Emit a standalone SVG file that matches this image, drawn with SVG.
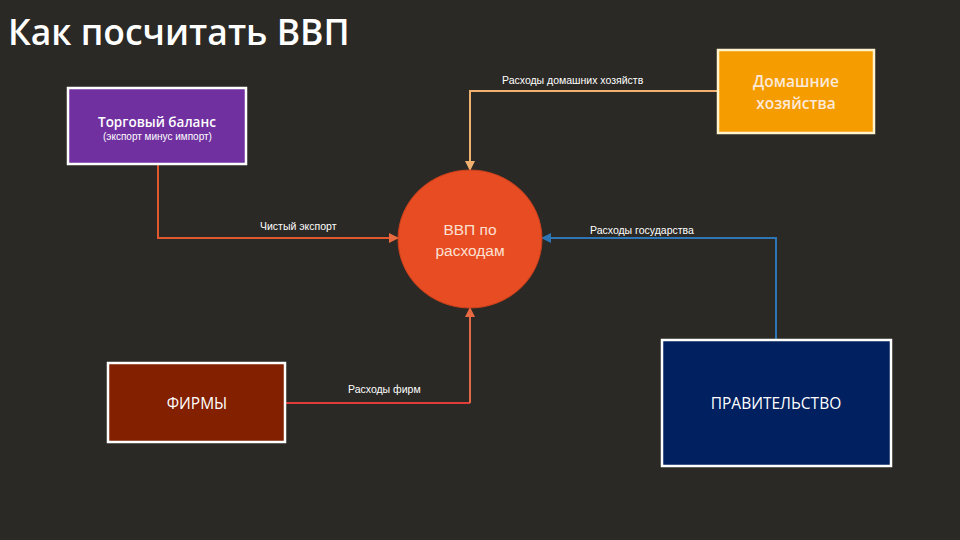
<svg xmlns="http://www.w3.org/2000/svg" width="960" height="540" viewBox="0 0 960 540">
<defs>
<style>
.box{stroke:#ffffff;stroke-width:2.5}
.lbl{font-family:"Liberation Sans","DejaVu Sans",sans-serif;font-size:10.5px;fill:#ffffff}
.nt{font-family:"Open Sans","Noto Sans",sans-serif;font-weight:600;font-size:14px;fill:#ffffff}
.nr{font-family:"Open Sans","Noto Sans",sans-serif;font-weight:400;font-size:15.5px;fill:#ffffff}
.ln{fill:none;stroke-width:2}
</style>
<marker id="aO" viewBox="0 0 10 10" refX="9" refY="5" markerWidth="5" markerHeight="5" orient="auto"><path d="M0,0 L10,5 L0,10 z" fill="#f0b070"/></marker>
<marker id="aR" viewBox="0 0 10 10" refX="9" refY="5" markerWidth="5" markerHeight="5" orient="auto"><path d="M0,0 L10,5 L0,10 z" fill="#e86a40"/></marker>
<marker id="aB" viewBox="0 0 10 10" refX="9" refY="5" markerWidth="5" markerHeight="5" orient="auto"><path d="M0,0 L10,5 L0,10 z" fill="#2e75b6"/></marker>
</defs>
<rect width="960" height="540" fill="#2a2925"/>
<text x="8" y="45" font-family="'Open Sans','Noto Sans',sans-serif" font-weight="600" font-size="35.5" fill="#ffffff">Как посчитать ВВП</text>

<g id="connectors">
<polyline class="ln" points="718,91 470,91 470,170" stroke="#f0b070" marker-end="url(#aO)"/>
<text class="lbl" x="502" y="84">Расходы домашних хозяйств</text>
<polyline class="ln" points="158,164 158,238 398,238" stroke="#e0582e" marker-end="url(#aR)"/>
<text class="lbl" x="260" y="230">Чистый экспорт</text>
<polyline class="ln" points="776,340 776,238 542,238" stroke="#2e75b6" marker-end="url(#aB)"/>
<text class="lbl" x="590" y="234">Расходы государства</text>
<polyline class="ln" points="285,403 470,403" stroke="#e03c3c"/>
<polyline class="ln" points="470,403 470,308" stroke="#e06a48" marker-end="url(#aR)"/>
<text class="lbl" x="348" y="393">Расходы фирм</text>
</g>

<g id="trade">
<rect class="box" x="68" y="88" width="178" height="76" fill="#7030a0"/>
<text class="nt" x="98" y="127" style="font-size:13.5px">Торговый баланс</text>
<text class="lbl" x="103" y="140" style="font-size:10px">(экспорт минус импорт)</text>
</g>

<g id="households">
<rect x="718" y="50" width="156" height="83" fill="#f59d00" stroke="#fff2cc" stroke-width="2.5"/>
<text class="nt" x="796" y="87" text-anchor="middle" style="font-size:15.5px;fill:#fde9d9">Домашние</text>
<text class="nt" x="796" y="109" text-anchor="middle" style="font-size:15.5px;fill:#fde9d9">хозяйства</text>
</g>

<g id="gdp">
<ellipse cx="470" cy="239" rx="72" ry="69" fill="#e84c22" stroke="#c8401c" stroke-width="1"/>
<text x="470" y="235" text-anchor="middle" font-family="'Liberation Sans','DejaVu Sans',sans-serif" font-size="15.5" fill="#fbe0d2">ВВП по</text>
<text x="470" y="256" text-anchor="middle" font-family="'Liberation Sans','DejaVu Sans',sans-serif" font-size="15.5" fill="#fbe0d2">расходам</text>
</g>

<g id="firms">
<rect class="box" x="108" y="363" width="177" height="79" fill="#832000"/>
<text class="nr" x="197" y="409" text-anchor="middle">ФИРМЫ</text>
</g>

<g id="government">
<rect class="box" x="662" y="340" width="229" height="126" fill="#002060"/>
<text class="nr" x="776" y="409" text-anchor="middle">ПРАВИТЕЛЬСТВО</text>
</g>
</svg>
